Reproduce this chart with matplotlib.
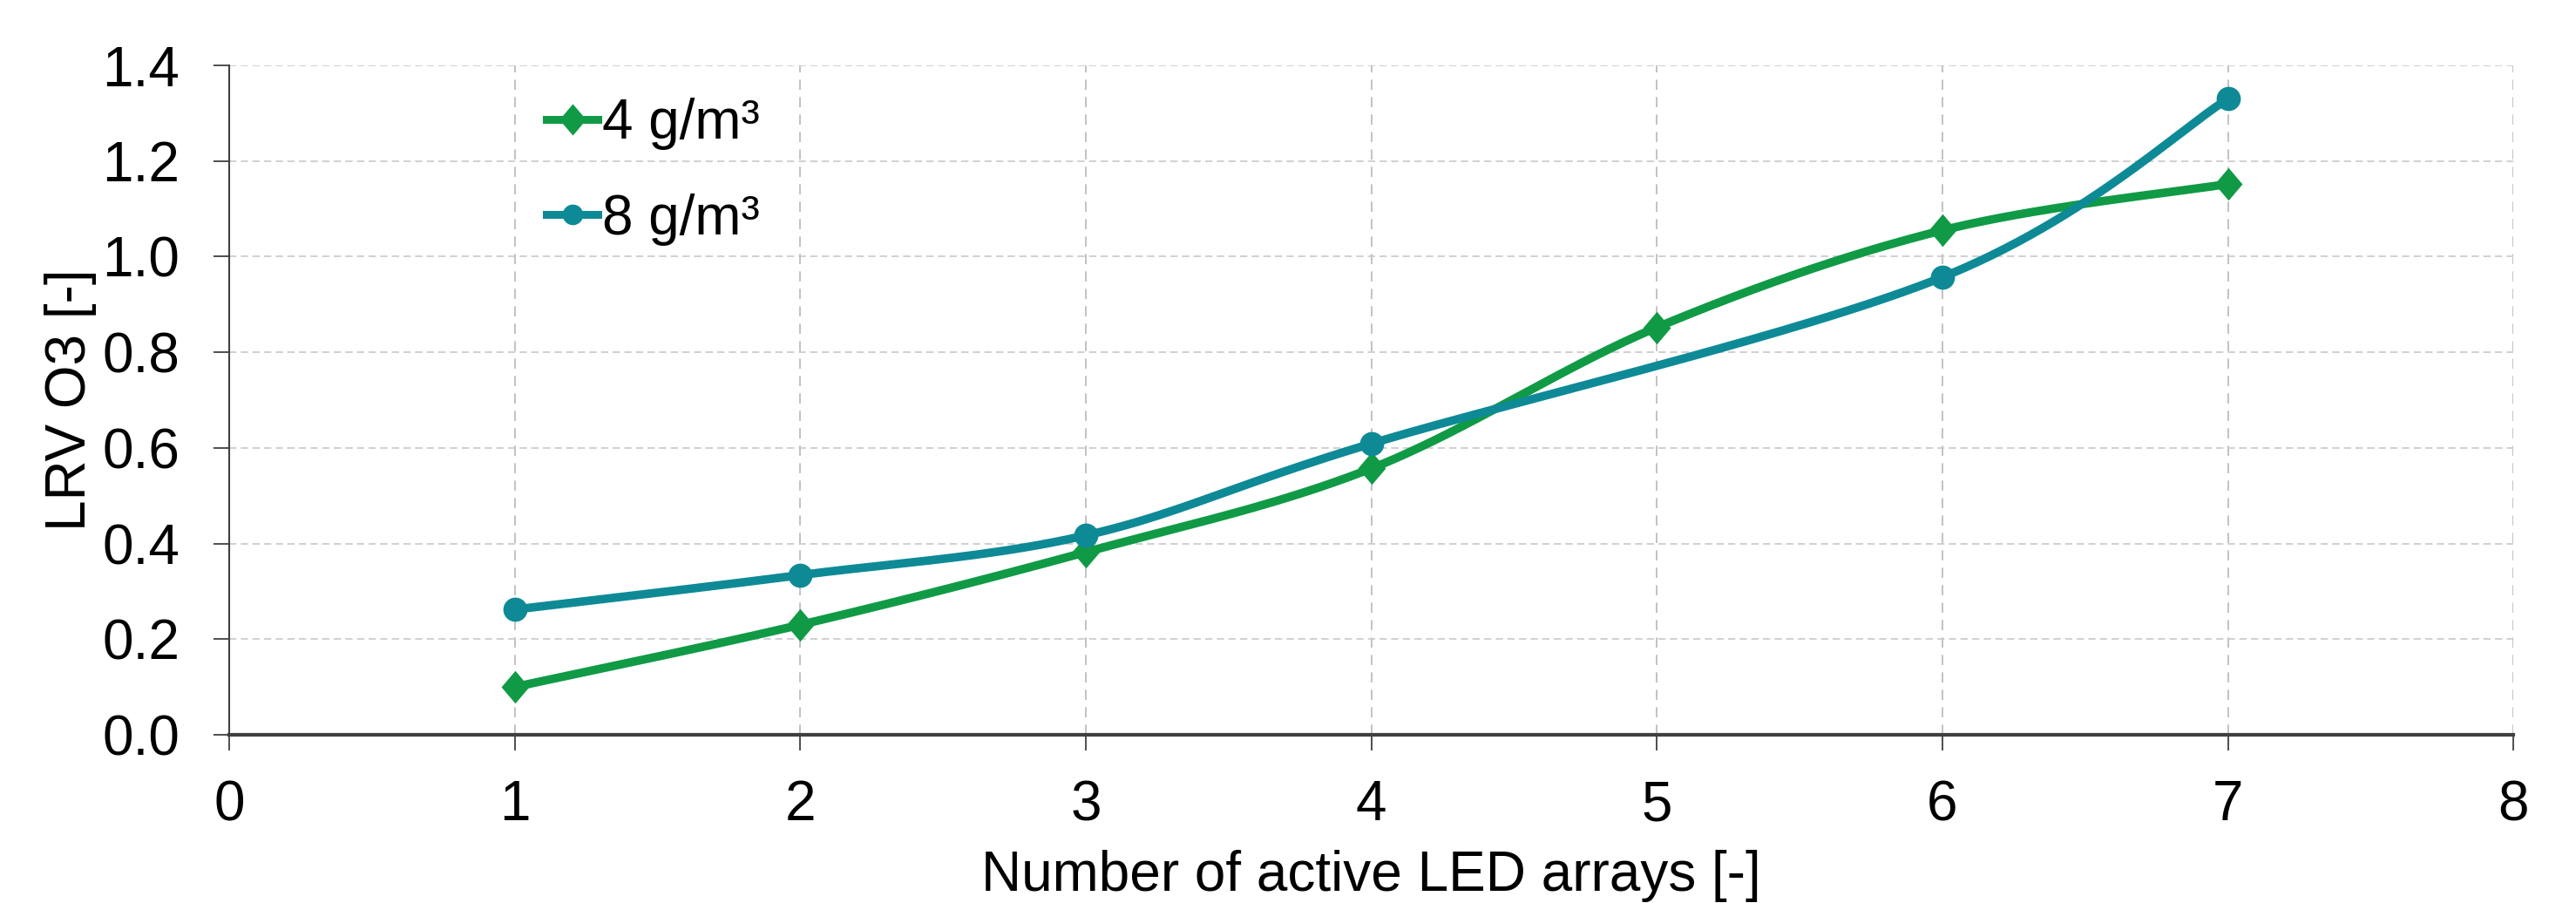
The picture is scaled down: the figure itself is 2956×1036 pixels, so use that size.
import numpy as np
import matplotlib.pyplot as plt
from matplotlib.lines import Line2D
from matplotlib.path import Path

# 数据
x_4g = [1, 2, 3, 4, 5, 6, 7]
lrv_4g = [0.10, 0.23, 0.382, 0.557, 0.852, 1.055, 1.152]
x_8g = [1, 2, 3, 4, 6, 7]
lrv_8g = [0.262, 0.334, 0.417, 0.609, 0.957, 1.330]
labels = ['4 g/m³', '8 g/m³']
x_ticks = [0, 1, 2, 3, 4, 5, 6, 7, 8]
y_ticks = [0.0, 0.2, 0.4, 0.6, 0.8, 1.0, 1.2, 1.4]

green = '#109a46'
teal = '#0e8a96'

# 稍高的菱形标记
diamond = Path([(0, 1), (0.85, 0), (0, -1), (-0.85, 0), (0, 1)],
               [Path.MOVETO, Path.LINETO, Path.LINETO, Path.LINETO, Path.CLOSEPOLY])


# Excel风格的平滑曲线 (Catmull-Rom / Bezier)
def smooth(xs, ys, n=60):
    xs = np.asarray(xs, float)
    ys = np.asarray(ys, float)
    px, py = [], []
    for i in range(len(xs) - 1):
        p0 = (xs[max(i - 1, 0)], ys[max(i - 1, 0)])
        p1 = (xs[i], ys[i])
        p2 = (xs[i + 1], ys[i + 1])
        p3 = (xs[min(i + 2, len(xs) - 1)], ys[min(i + 2, len(xs) - 1)])
        c1 = (p1[0] + (p2[0] - p0[0]) / 6, p1[1] + (p2[1] - p0[1]) / 6)
        c2 = (p2[0] - (p3[0] - p1[0]) / 6, p2[1] - (p3[1] - p1[1]) / 6)
        t = np.linspace(0, 1, n)
        bx = (1 - t) ** 3 * p1[0] + 3 * (1 - t) ** 2 * t * c1[0] + 3 * (1 - t) * t ** 2 * c2[0] + t ** 3 * p2[0]
        by = (1 - t) ** 3 * p1[1] + 3 * (1 - t) ** 2 * t * c1[1] + 3 * (1 - t) * t ** 2 * c2[1] + t ** 3 * p2[1]
        px.extend(bx)
        py.extend(by)
    return np.array(px), np.array(py)


plt.rcParams['font.family'] = ['Liberation Sans', 'DejaVu Sans']

fig = plt.figure(figsize=(29.56, 10.36), dpi=100)
ax = fig.add_axes([0.089, 0.1863, 0.8867, 0.7413])

sx, sy = smooth(x_4g, lrv_4g)
ax.plot(sx, sy, color=green, lw=7, zorder=3, solid_capstyle='round')
ax.plot(x_4g, lrv_4g, ls='none', marker=diamond, ms=27, mew=0, color=green, zorder=4)

sx, sy = smooth(x_8g, lrv_8g)
ax.plot(sx, sy, color=teal, lw=7, zorder=3, solid_capstyle='round')
ax.plot(x_8g, lrv_8g, ls='none', marker='o', ms=20, mew=0, color=teal, zorder=4)

ax.set_xlim(0, 8)
ax.set_ylim(0, 1.4)
ax.set_xticks(x_ticks)
ax.set_yticks(y_ticks)
ax.set_yticklabels([f'{v:.1f}' for v in y_ticks])

# 网格
ax.grid(axis='y', color='#c8c8c8', ls=(0, (5, 3)), lw=1.2)
ax.grid(axis='x', color='#b8b8b8', ls=(0, (7, 5)), lw=1.2)
ax.set_axisbelow(True)

ax.spines['top'].set_visible(False)
ax.spines['right'].set_visible(False)
ax.spines['left'].set_color('#404040')
ax.spines['left'].set_linewidth(1.5)
ax.spines['bottom'].set_color('#404040')
ax.spines['bottom'].set_linewidth(3)
ax.tick_params(axis='both', labelsize=46, length=13, width=1.3, color='#404040')
ax.tick_params(axis='y', pad=28)
ax.tick_params(axis='x', pad=24)

ax.set_xlabel('Number of active LED arrays [-]', fontsize=46, va='top')
ax.set_ylabel('LRV O3 [-]', fontsize=46)
ax.xaxis.set_label_coords(0.5, -0.172)
ax.yaxis.set_label_coords(-0.058, 0.5)

handles = [Line2D([], [], color=green, lw=6.5, marker=diamond, ms=26, mew=0),
           Line2D([], [], color=teal, lw=6.5, marker='o', ms=17, mew=0)]
ax.legend(handles, labels, loc='upper left', bbox_to_anchor=(0.139, 0.952),
          frameon=False, fontsize=46, handlelength=0.92, handletextpad=0.08,
          labelspacing=0.78, borderaxespad=0, borderpad=0)

fig.savefig('out.png', dpi=100)
